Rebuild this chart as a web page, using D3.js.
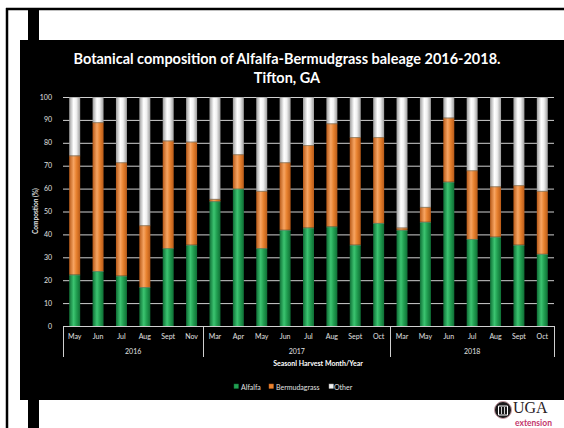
<!DOCTYPE html>
<html>
<head>
<meta charset="utf-8">
<script src="https://cdn.jsdelivr.net/npm/d3@7"></script>
<style>
  html, body { margin: 0; padding: 0; background: #fff; }
  svg { display: block; }
</style>
</head>
<body>
<svg id="chart" width="564" height="428"></svg>
<script>
// ---- Data ----
const months = ["May","Jun","Jul","Aug","Sept","Nov","Mar","Apr","May","Jun","Jul","Aug","Sept","Oct","Mar","May","Jun","Jul","Aug","Sept","Oct"];
const years = ["2016","2016","2016","2016","2016","2016","2017","2017","2017","2017","2017","2017","2017","2017","2018","2018","2018","2018","2018","2018","2018"];
const alfalfa = [22.5,24,22,17,34,35.5,54.5,60,34,42,43,43.5,35.5,45,42,45.5,63,38,39,35.5,31.5];
const bermudagrass = [52,65,49.5,27,47,45,1,15,25,29.5,36,45,47,37.5,1,6.5,28,30,22,26,27.5];
const other = [25.5,11,28.5,56,19,19.5,44.5,25,41,28.5,21,11.5,17.5,17.5,57,48,9,32,39,38.5,41];
const seriesNames = ["Alfalfa","Bermudagrass","Other"];
const yTicks = [0,10,20,30,40,50,60,70,80,90,100];
const titleLines = ["Botanical composition of Alfalfa-Bermudgrass baleage 2016-2018.", "Tifton, GA"];
const xTitle = "Seasonl Harvest Month/Year";
const yTitle = "Compostion (%)";

const colors = {
  Alfalfa: {edge: "#0f6e35", mid: "#3cc471", base: "#22a052"},
  Bermudagrass: {edge: "#b85a18", mid: "#f7a462", base: "#e8822f"},
  Other: {edge: "#9c9c9c", mid: "#ffffff", base: "#f0f0f0"}
};

const svg = d3.select("#chart");
const font = "Lato, 'Open Sans', sans-serif";

// ---- Slide frame ----
svg.append("rect").attr("x",0).attr("y",0).attr("width",564).attr("height",428).attr("fill","#fff");
svg.append("line").attr("x1",6).attr("x2",564).attr("y1",9).attr("y2",9).attr("stroke","#000").attr("stroke-width",2.5);
svg.append("line").attr("x1",7).attr("x2",7).attr("y1",8).attr("y2",428).attr("stroke","#000").attr("stroke-width",2.5);
svg.append("rect").attr("x",28).attr("y",9).attr("width",11).attr("height",419).attr("fill","#000");
svg.append("rect").attr("x",20).attr("y",40).attr("width",544).attr("height",360).attr("fill","#000");

// ---- Gradients ----
const defs = svg.append("defs");
seriesNames.forEach((s,i) => {
  const g = defs.append("linearGradient").attr("id","grad"+i).attr("x1","0").attr("x2","1").attr("y1","0").attr("y2","0");
  g.append("stop").attr("offset","0%").attr("stop-color",colors[s].edge);
  g.append("stop").attr("offset","40%").attr("stop-color",colors[s].mid);
  g.append("stop").attr("offset","65%").attr("stop-color",colors[s].base);
  g.append("stop").attr("offset","100%").attr("stop-color",colors[s].edge);
});

// ---- Scales ----
const plotL = 63, plotR = 554, plotT = 97, plotB = 326;
const x = d3.scaleBand().domain(d3.range(months.length)).range([plotL, plotR]).paddingInner(0.53).paddingOuter(0.265);
const y = d3.scaleLinear().domain([0,100]).range([plotB, plotT]);

// ---- Title ----
const title = svg.append("text").attr("x",287).attr("y",64).attr("text-anchor","middle")
  .attr("fill","#fff").attr("font-family",font).attr("font-weight","bold").attr("font-size",13)
  .text(titleLines[0]);
const tw = title.node().getComputedTextLength();
const tsize = 13 * 427 / tw;
title.attr("font-size", tsize);
svg.append("text").attr("x",287).attr("y",83).attr("text-anchor","middle")
  .attr("fill","#fff").attr("font-family",font).attr("font-weight","bold").attr("font-size",tsize)
  .text(titleLines[1]);

// ---- Gridlines ----
svg.append("g").selectAll("line").data(yTicks.filter(d=>d>0)).join("line")
  .attr("x1",plotL).attr("x2",plotR)
  .attr("y1",d=>y(d)+0.5).attr("y2",d=>y(d)+0.5)
  .attr("stroke","#d0d0d0").attr("stroke-width",1);

// ---- Y axis labels ----
svg.append("g").selectAll("text").data(yTicks).join("text")
  .attr("x",52).attr("y",d=>y(d)+2.5).attr("text-anchor","end")
  .attr("fill","#e0e0e0").attr("font-family",font).attr("font-size",7)
  .text(d=>d);

svg.append("text").attr("transform","translate(38,211) rotate(-90)").attr("text-anchor","middle")
  .attr("fill","#e0e0e0").attr("font-family",font).attr("font-weight","bold").attr("font-size",6.5)
  .text(yTitle);

// ---- Bars ----
const rows = months.map((m,i) => ({i, Alfalfa: alfalfa[i], Bermudagrass: bermudagrass[i], Other: other[i]}));
const stack = d3.stack().keys(seriesNames)(rows);
const bw = x.bandwidth();
stack.forEach((layer, li) => {
  const g = svg.append("g");
  g.selectAll("rect").data(layer).join("rect")
    .attr("x", d => x(d.data.i))
    .attr("y", d => y(d[1]))
    .attr("width", bw)
    .attr("height", d => Math.max(0, y(d[0]) - y(d[1])))
    .attr("fill", "url(#grad"+li+")");
  g.selectAll("line").data(layer).join("line")
    .attr("x1", d => x(d.data.i)).attr("x2", d => x(d.data.i)+bw)
    .attr("y1", d => y(d[1])+0.5).attr("y2", d => y(d[1])+0.5)
    .attr("stroke", li===2 ? "#a0a0a0" : "#7a7a6a").attr("stroke-opacity",0.7).attr("stroke-width",1);
});

// ---- X axis ----
svg.append("line").attr("x1",plotL).attr("x2",plotR).attr("y1",plotB+0.5).attr("y2",plotB+0.5)
  .attr("stroke","#d0d0d0").attr("stroke-width",1);

svg.append("g").selectAll("text").data(months).join("text")
  .attr("x",(d,i)=>x(i)+bw/2).attr("y",339).attr("text-anchor","middle")
  .attr("fill","#e0e0e0").attr("font-family",font).attr("font-size",7)
  .text(d=>d);

const yearGroups = d3.groups(d3.range(years.length), i => years[i]);
const step = x.step();
const sepX = [plotL];
yearGroups.forEach(([yr, idx]) => {
  const x0 = x(idx[0]) - x.paddingOuter()*step;
  const x1 = x(idx[idx.length-1]) - x.paddingOuter()*step + step;
  sepX.push(x1);
  svg.append("text").attr("x",(x0+x1)/2).attr("y",354).attr("text-anchor","middle")
    .attr("fill","#e0e0e0").attr("font-family",font).attr("font-size",7).text(yr);
});
svg.append("g").selectAll("line").data(sepX).join("line")
  .attr("x1",d=>Math.round(d)+0.5).attr("x2",d=>Math.round(d)+0.5)
  .attr("y1",plotB).attr("y2",357)
  .attr("stroke","#d0d0d0").attr("stroke-width",1);

svg.append("text").attr("x",318).attr("y",366).attr("text-anchor","middle")
  .attr("fill","#fff").attr("font-family",font).attr("font-weight","bold").attr("font-size",7)
  .text(xTitle);

// ---- Legend ----
const legendX = [234, 269, 329];
const legend = svg.append("g");
seriesNames.forEach((s,i) => {
  legend.append("rect").attr("x",legendX[i]).attr("y",384).attr("width",4.5).attr("height",4.5)
    .attr("fill",colors[s].base).attr("stroke",colors[s].edge).attr("stroke-width",0.5);
  legend.append("text").attr("x",legendX[i]+(i===2?5:7)).attr("y",389.5)
    .attr("fill","#e0e0e0").attr("font-family",font).attr("font-size",7).text(s);
});

// ---- UGA logo ----
const logo = svg.append("g");
logo.append("circle").attr("cx",503).attr("cy",410).attr("r",8.5).attr("fill","#1a1a1a").attr("stroke","#c9a0a8").attr("stroke-width",1);
logo.append("path").attr("d","M498.5,406 L507.5,406 L507.5,415 L498.5,415 Z").attr("fill","none").attr("stroke","#fff").attr("stroke-width",1);
logo.append("line").attr("x1",501.5).attr("x2",501.5).attr("y1",407).attr("y2",414).attr("stroke","#fff").attr("stroke-width",0.8);
logo.append("line").attr("x1",504.5).attr("x2",504.5).attr("y1",407).attr("y2",414).attr("stroke","#fff").attr("stroke-width",0.8);
logo.append("text").attr("x",513).attr("y",413).attr("fill","#2a2226")
  .attr("font-family","'Liberation Serif', 'DejaVu Serif', serif").attr("font-size",16).text("UGA");
logo.append("text").attr("x",515).attr("y",425.5).attr("fill","#c4386c")
  .attr("font-family",font).attr("font-weight","bold").attr("font-size",8.5).text("extension");
</script>
</body>
</html>
